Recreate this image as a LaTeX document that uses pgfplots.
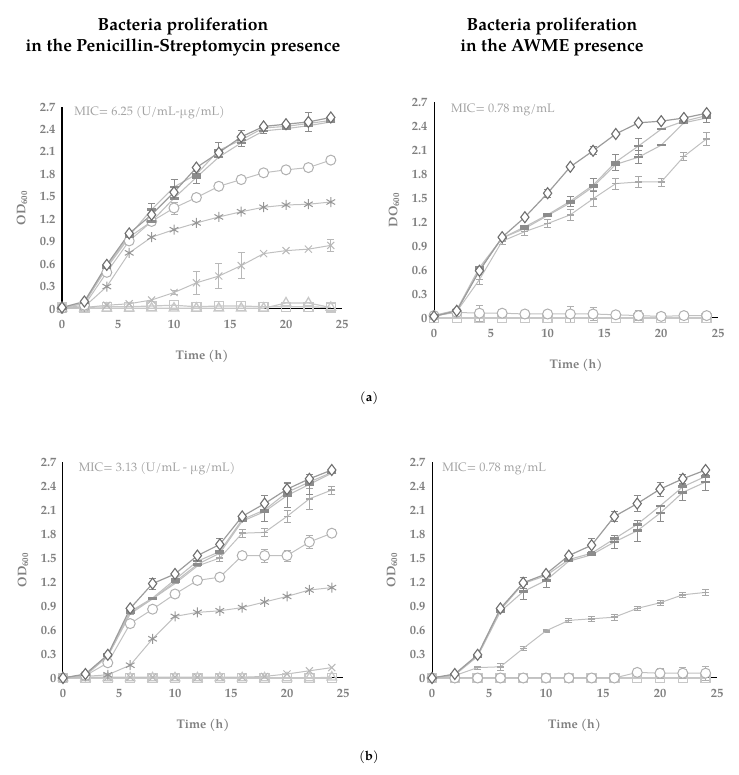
\documentclass[border=0pt]{standalone}
\usepackage{pgfplots}
\pgfplotsset{compat=1.18}
\usepackage{fontspec}
\setmainfont{TeX Gyre Pagella}
\definecolor{tickC}{HTML}{7F7F7F}
\definecolor{micC}{HTML}{A3A3A3}
\definecolor{lnA}{HTML}{9C9C9C}
\definecolor{mkA}{HTML}{6E6E6E}
\definecolor{dashC}{HTML}{8C8C8C}
\definecolor{lightC}{HTML}{A8A8A8}
\definecolor{circC}{HTML}{B0B0B0}
\definecolor{astC}{HTML}{969696}
\definecolor{crossC}{HTML}{B8B8B8}
\definecolor{sqC}{HTML}{C8C8C8}
\definecolor{lineL}{HTML}{C0C0C0}
\tikzset{mic/.style={anchor=west, text=micC, font=\fontsize{12.3}{14}\selectfont}}
\pgfplotsset{
  panel/.style={
    scale only axis, clip=false,
    xmin=0, xmax=25, ymin=0, ymax=2.7,
    axis x line=bottom, axis y line=left,
    axis line style={-, black, line width=1pt},
    xtick={0,5,10,15,20,25}, xticklabels={0,5,10,15,20,25},
    ytick={0,0.3,0.6,0.9,1.2,1.5,1.8,2.1,2.4,2.7},
    yticklabels={0,0.3,0.6,0.9,1.2,1.5,1.8,2.1,2.4,2.7},
    major tick length=0pt,
    tick label style={font=\fontsize{12.5}{14}\selectfont\bfseries, text=tickC},
    xticklabel style={yshift=-8pt},
    yticklabel style={xshift=-3pt},
    every axis x label/.style={at={(axis description cs:0.5,0)}, anchor=center, yshift=-47pt, font=\fontsize{12.5}{14}\selectfont\bfseries, text=tickC},
    every axis y label/.style={at={(axis description cs:0,0.5)}, anchor=center, xshift=-40pt, rotate=90, font=\fontsize{12.5}{14}\selectfont\bfseries, text=tickC},
    xlabel={Time (h)},
  },
  ctrl/.style={draw=lnA, line width=1.2pt, mark=diamond*, mark size=5.5pt, mark options={draw=mkA, fill=white, line width=1.1pt, solid}},
  dsh/.style={draw=lineL, line width=1.1pt, mark=-, mark size=4.5pt, mark options={draw=dashC, line width=2.6pt}},
  lgt/.style={draw=lineL, line width=1pt, mark=-, mark size=3.5pt, mark options={draw=lightC, line width=1.5pt}},
  circ/.style={draw=lineL, line width=1pt, mark=*, mark size=5pt, mark options={draw=circC, fill=white, line width=1pt}},
  ast/.style={draw=lineL, line width=1pt, mark=asterisk, mark size=5pt, mark options={draw=astC, line width=1pt}},
  crs/.style={draw=lineL, line width=1pt, mark=x, mark size=5pt, mark options={draw=crossC, line width=1pt}},
  sqr/.style={draw=sqC, line width=1.2pt, mark=square, mark size=4.5pt, mark options={draw=sqC, line width=1.3pt}},
  tri/.style={draw=sqC, line width=1.2pt, mark=triangle, mark size=5.5pt, mark options={draw=sqC, line width=1.3pt}},
  errs/.style={draw=none, mark=none, forget plot, error bars/.cd, y dir=both, y explicit,
     error bar style={draw=#1, line width=0.9pt},
     error mark options={draw=#1, mark size=3.5pt, line width=0.9pt, rotate=90}},
}
\begin{document}
\begin{tikzpicture}
\path (0pt,0pt) rectangle (738pt,775pt);
\node[align=center, font=\fontsize{17.5}{20.5}\selectfont\bfseries] at (183pt,738pt) {Bacteria proliferation\\in the Penicillin-Streptomycin presence};
\node[align=center, font=\fontsize{17.5}{20.5}\selectfont\bfseries] at (552pt,738pt) {Bacteria proliferation\\in the AWME presence};
\node[font=\fontsize{13}{15}\selectfont] at (369pt,377pt) {(\textbf{a})};
\node[font=\fontsize{13}{15}\selectfont] at (369pt,18pt) {(\textbf{b})};

% ---------- (a) left ----------
\begin{axis}[panel, at={(62pt,466pt)}, anchor=south west, width=280pt, height=202pt, ylabel={OD\textsubscript{600}}]
\node[mic] at (axis cs:0.8,2.62) {MIC= 6.25 (U/mL-µg/mL)};
\addplot[sqr] coordinates {(0,0.02)(2,0.02)(4,0.03)(6,0.03)(8,0.04)(10,0.05)(12,0.03)(14,0.04)(16,0.04)(18,0.03)(20,0.03)(22,0.03)(24,0.02)};
\addplot[tri] coordinates {(0,0.01)(2,0.01)(4,0.01)(6,0.01)(8,0.01)(10,0.01)(12,0.01)(14,0.01)(16,0.01)(18,0.01)(20,0.08)(22,0.08)(24,0.02)};
\addplot[errs=crossC] coordinates {(10,0.22)+-(0,0.03)(12,0.35)+-(0,0.15)(14,0.44)+-(0,0.17)(16,0.58)+-(0,0.17)(24,0.85)+-(0,0.08)};
\addplot[crs] coordinates {(0,0)(2,0.02)(4,0.05)(6,0.07)(8,0.12)(10,0.22)(12,0.35)(14,0.44)(16,0.58)(18,0.74)(20,0.78)(22,0.80)(24,0.85)};
\addplot[ast] coordinates {(0,0)(2,0.03)(4,0.30)(6,0.75)(8,0.96)(10,1.06)(12,1.15)(14,1.23)(16,1.30)(18,1.36)(20,1.39)(22,1.40)(24,1.43)};
\addplot[errs=circC] coordinates {(8,1.17)+-(0,0.06)(10,1.35)+-(0,0.08)(24,1.99)+-(0,0.05)};
\addplot[circ] coordinates {(0,0.01)(2,0.05)(4,0.49)(6,0.91)(8,1.17)(10,1.35)(12,1.49)(14,1.64)(16,1.73)(18,1.82)(20,1.86)(22,1.89)(24,1.99)};
\addplot[errs=dashC] coordinates {(8,1.33)+-(0,0.08)(10,1.63)+-(0,0.10)(12,1.76)+-(0,0.08)(14,2.12)+-(0,0.1)(16,2.22)+-(0,0.05)(18,2.38)+-(0,0.04)};
\addplot[dsh] coordinates {(0,0.01)(2,0.08)(4,0.55)(6,0.96)(8,1.17)(10,1.48)(12,1.76)(14,2.03)(16,2.22)(18,2.38)(20,2.41)(22,2.45)(24,2.50)};
\addplot[dsh] coordinates {(0,0.01)(2,0.08)(4,0.57)(6,0.98)(8,1.33)(10,1.63)(12,1.80)(14,2.12)(16,2.26)(18,2.42)(20,2.44)(22,2.48)(24,2.52)};
\addplot[errs=dashC] coordinates {(16,2.30)+-(0,0.08)(22,2.50)+-(0,0.13)};
\addplot[ctrl] coordinates {(0,0.02)(2,0.10)(4,0.59)(6,1.01)(8,1.26)(10,1.56)(12,1.89)(14,2.09)(16,2.30)(18,2.44)(20,2.47)(22,2.50)(24,2.56)};
\end{axis}

% ---------- (a) right ----------
\begin{axis}[panel, at={(434pt,457pt)}, anchor=south west, width=284pt, height=216pt, ylabel={DO\textsubscript{600}}]
\node[mic] at (axis cs:1.2,2.6) {MIC= 0.78 mg/mL};
\addplot[sqr] coordinates {(0,0.0)(2,0.0)(4,0.0)(6,0.0)(8,0.0)(10,0.0)(12,0.0)(14,0.0)(16,0.0)(18,0.0)(20,0.0)(22,0.0)(24,0.0)};
\addplot[errs=circC] coordinates {(4,0.06)+-(0,0.1)(12,0.05)+-(0,0.1)(14,0.05)+-(0,0.08)(18,0.03)+-(0,0.06)};
\addplot[circ] coordinates {(0,0.03)(2,0.07)(4,0.06)(6,0.06)(8,0.05)(10,0.05)(12,0.05)(14,0.05)(16,0.04)(18,0.03)(20,0.02)(22,0.03)(24,0.03)};
\addplot[errs=lightC] coordinates {(4,0.48)+-(0,0.06)(6,0.96)+-(0,0.04)(8,1.08)+-(0,0.05)(10,1.18)+-(0,0.05)(12,1.29)+-(0,0.07)(14,1.49)+-(0,0.1)(16,1.68)+-(0,0.07)(18,1.70)+-(0,0.07)(20,1.70)+-(0,0.05)(22,2.02)+-(0,0.05)(24,2.24)+-(0,0.08)};
\addplot[lgt] coordinates {(0,0.02)(2,0.08)(4,0.48)(6,0.96)(8,1.08)(10,1.18)(12,1.29)(14,1.49)(16,1.68)(18,1.70)(20,1.70)(22,2.02)(24,2.24)};
\addplot[errs=dashC] coordinates {(12,1.46)+-(0,0.06)(14,1.66)+-(0,0.08)(16,1.95)+-(0,0.1)(18,2.15)+-(0,0.1)(18,2.01)+-(0,0.08)(24,2.50)+-(0,0.05)};
\addplot[dsh] coordinates {(0,0.03)(2,0.09)(4,0.60)(6,1.00)(8,1.12)(10,1.28)(12,1.44)(14,1.64)(16,1.92)(18,2.01)(20,2.16)(22,2.44)(24,2.50)};
\addplot[dsh] coordinates {(0,0.03)(2,0.10)(4,0.63)(6,1.00)(8,1.14)(10,1.29)(12,1.46)(14,1.66)(16,1.95)(18,2.15)(20,2.36)(22,2.46)(24,2.53)};
\addplot[errs=dashC] coordinates {(10,1.56)+-(0,0.05)(14,2.09)+-(0,0.05)};
\addplot[ctrl] coordinates {(0,0.02)(2,0.09)(4,0.59)(6,1.01)(8,1.26)(10,1.56)(12,1.89)(14,2.09)(16,2.30)(18,2.44)(20,2.46)(22,2.50)(24,2.56)};
\end{axis}

% ---------- (b) left ----------
\begin{axis}[panel, at={(63pt,97pt)}, anchor=south west, width=280pt, height=216pt, ylabel={OD\textsubscript{600}}]
\node[mic] at (axis cs:1.1,2.62) {MIC= 3.13 (U/mL - µg/mL)};
\addplot[sqr] coordinates {(0,0)(2,0)(4,0)(6,0)(8,0)(10,0)(12,0)(14,0)(16,0)(18,0)(20,0)(22,0)(24,0)};
\addplot[tri] coordinates {(0,0)(2,0)(4,0)(6,0)(8,0)(10,0)(12,0)(14,0)(16,0)(18,0)(20,0)(22,0)(24,0.01)};
\addplot[crs] coordinates {(0,0)(2,0.01)(4,0.01)(6,0.01)(8,0.01)(10,0.01)(12,0.01)(14,0.01)(16,0.01)(18,0.02)(20,0.05)(22,0.09)(24,0.13)};
\addplot[ast] coordinates {(0,0)(2,0.02)(4,0.04)(6,0.16)(8,0.49)(10,0.77)(12,0.82)(14,0.84)(16,0.88)(18,0.95)(20,1.02)(22,1.10)(24,1.13)};
\addplot[errs=circC] coordinates {(18,1.53)+-(0,0.08)(20,1.53)+-(0,0.07)(22,1.70)+-(0,0.08)};
\addplot[circ] coordinates {(0,0)(2,0.03)(4,0.19)(6,0.68)(8,0.86)(10,1.05)(12,1.22)(14,1.26)(16,1.53)(18,1.53)(20,1.53)(22,1.70)(24,1.81)};
\addplot[errs=lightC] coordinates {(14,1.50)+-(0,0.04)(16,1.81)+-(0,0.05)(18,1.82)+-(0,0.05)(20,2.02)+-(0,0.08)(22,2.24)+-(0,0.13)(24,2.35)+-(0,0.05)};
\addplot[lgt] coordinates {(0,0)(2,0.03)(4,0.27)(6,0.80)(8,0.99)(10,1.18)(12,1.40)(14,1.50)(16,1.81)(18,1.82)(20,2.02)(22,2.24)(24,2.35)};
\addplot[errs=dashC] coordinates {(18,2.08)+-(0,0.12)(20,2.28)+-(0,0.15)(22,2.42)+-(0,0.13)};
\addplot[dsh] coordinates {(0,0)(2,0.04)(4,0.28)(6,0.82)(8,0.99)(10,1.20)(12,1.42)(14,1.56)(16,1.96)(18,2.08)(20,2.28)(22,2.42)(24,2.56)};
\addplot[dsh] coordinates {(0,0)(2,0.04)(4,0.29)(6,0.83)(8,1.00)(10,1.23)(12,1.46)(14,1.58)(16,1.98)(18,2.10)(20,2.32)(22,2.45)(24,2.57)};
\addplot[errs=dashC] coordinates {(8,1.18)+-(0,0.07)(14,1.67)+-(0,0.07)(18,2.18)+-(0,0.1)(20,2.36)+-(0,0.08)};
\addplot[ctrl] coordinates {(0,0)(2,0.05)(4,0.29)(6,0.87)(8,1.18)(10,1.30)(12,1.53)(14,1.67)(16,2.02)(18,2.18)(20,2.36)(22,2.49)(24,2.60)};
\end{axis}

% ---------- (b) right ----------
\begin{axis}[panel, at={(432pt,97pt)}, anchor=south west, width=285pt, height=216pt, ylabel={OD\textsubscript{600}}]
\node[mic] at (axis cs:0.6,2.62) {MIC= 0.78 mg/mL};
\addplot[sqr] coordinates {(0,0)(2,0)(4,0)(6,0)(8,0)(10,0)(12,0)(14,0)(16,0)(18,0)(20,0)(22,0)(24,0)};
\addplot[errs=circC] coordinates {(16,0.0)+-(0,0.05)(20,0.06)+-(0,0.06)(22,0.06)+-(0,0.07)(24,0.06)+-(0,0.09)};
\addplot[circ] coordinates {(0,0)(2,0)(4,0)(6,0)(8,0)(10,0)(12,0)(14,0)(16,0)(18,0.07)(20,0.06)(22,0.06)(24,0.06)};
\addplot[errs=lightC] coordinates {(4,0.13)+-(0,0.02)(6,0.14)+-(0,0.04)(8,0.37)+-(0,0.03)(10,0.59)+-(0,0.02)(12,0.72)+-(0,0.03)(14,0.74)+-(0,0.03)(16,0.76)+-(0,0.04)(18,0.87)+-(0,0.02)(20,0.94)+-(0,0.03)(22,1.04)+-(0,0.03)(24,1.07)+-(0,0.04)};
\addplot[lgt] coordinates {(0,0)(2,0.03)(4,0.13)(6,0.14)(8,0.37)(10,0.59)(12,0.72)(14,0.74)(16,0.76)(18,0.87)(20,0.94)(22,1.04)(24,1.07)};
\addplot[errs=dashC] coordinates {(8,1.08)+-(0,0.1)(10,1.22)+-(0,0.09)(16,1.70)+-(0,0.08)(18,1.84)+-(0,0.13)(20,2.06)+-(0,0.1)(22,2.32)+-(0,0.1)(24,2.45)+-(0,0.1)};
\addplot[dsh] coordinates {(0,0)(2,0.04)(4,0.27)(6,0.83)(8,1.08)(10,1.22)(12,1.46)(14,1.54)(16,1.70)(18,1.84)(20,2.06)(22,2.32)(24,2.45)};
\addplot[dsh] coordinates {(0,0)(2,0.04)(4,0.28)(6,0.85)(8,1.18)(10,1.28)(12,1.48)(14,1.56)(16,1.74)(18,1.92)(20,2.15)(22,2.39)(24,2.52)};
\addplot[errs=dashC] coordinates {(8,1.19)+-(0,0.07)(14,1.66)+-(0,0.08)(16,2.02)+-(0,0.06)(18,2.18)+-(0,0.1)(20,2.36)+-(0,0.09)(22,2.49)+-(0,0.06)};
\addplot[ctrl] coordinates {(0,0)(2,0.05)(4,0.29)(6,0.87)(8,1.19)(10,1.30)(12,1.53)(14,1.66)(16,2.02)(18,2.18)(20,2.36)(22,2.49)(24,2.60)};
\end{axis}
\end{tikzpicture}
\end{document}
